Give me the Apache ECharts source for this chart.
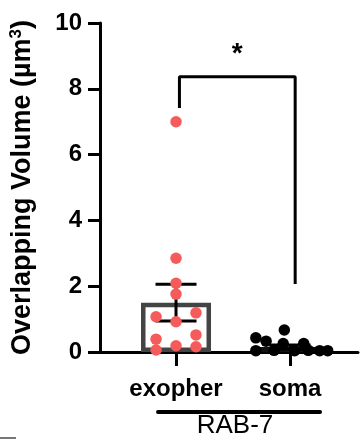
<!DOCTYPE html>
<html><head><meta charset="utf-8">
<script src="https://cdn.jsdelivr.net/npm/echarts@6/dist/echarts.min.js"></script>
<style>html,body{margin:0;padding:0;background:#fff}#c{width:360px;height:439px}</style>
</head><body><div id="c"></div>
<script>
const categories = ['exopher', 'soma'];
const groupLabel = 'RAB-7';
const yTicks = [0, 2, 4, 6, 8, 10];
const means = [1.5, 0.15];
const sems = [0.56, 0.06];
const exopherValues = [7.0, 2.85, 2.09, 1.76, 1.07, 1.19, 0.92, 0.39, 0.52, 0.19, 0.06, 0.16];
const exopherJitter = [0, 0, 0, 0, -0.175, 0.175, 0, -0.175, 0.175, 0, -0.175, 0.175];
const somaValues = [0.67, 0.43, 0.33, 0.26, 0.26, 0.04, 0.05, 0.04, 0.05, 0.04, 0.04];
const somaJitter = [-0.05, -0.3, -0.21, -0.06, 0.12, -0.3, -0.14, 0.04, 0.16, 0.26, 0.33];
const sigBracket = { from: 1.03, to: 2.045, top: 8.37, leftEnd: 7.42, rightEnd: 2.07, label: '*' };

const FONT = '"Liberation Sans", Arial, sans-serif';
const chart = echarts.init(document.getElementById('c'));

const xs = categories.map((_, i) => i + 1);
const exPts = exopherValues.map((v, i) => [1 + exopherJitter[i], v]);
const soPts = somaValues.map((v, i) => [2 + somaJitter[i], v]);

chart.setOption({
  animation: false,
  grid: { left: 100, right: 2, top: 23, bottom: 87 },
  xAxis: {
    type: 'value', min: 0.3333, max: 2.596,
    splitLine: { show: false },
    axisLine: { show: true, onZero: false, lineStyle: { color: '#000', width: 3 } },
    axisTick: { show: true, customValues: xs, length: 14, lineStyle: { color: '#000', width: 3 } },
    axisLabel: { customValues: xs, formatter: v => categories[Math.round(v) - 1] || '',
      color: '#000', fontFamily: FONT, fontWeight: 'bold', fontSize: 24, margin: 25 }
  },
  yAxis: {
    type: 'value', min: 0, max: 10, interval: 2,
    splitLine: { show: false },
    axisLine: { show: true, lineStyle: { color: '#000', width: 3 } },
    axisTick: { show: true, length: 12, lineStyle: { color: '#000', width: 3 } },
    axisLabel: { color: '#000', fontFamily: FONT, fontWeight: 'bold', fontSize: 24, margin: 18,
      formatter: v => yTicks.includes(v) ? String(v) : '' },
    name: '{a|Overlapping Volume (µm}{s|3}{a|)}',
    nameLocation: 'middle', nameGap: 63,
    nameTextStyle: { rich: {
      a: { fontFamily: FONT, fontWeight: 'bold', fontSize: 27, color: '#000' },
      s: { fontFamily: FONT, fontWeight: 'bold', fontSize: 17, color: '#000', verticalAlign: 'top', padding: [0,0,12,0] }
    } }
  },
  series: [
    {
      type: 'bar', barWidth: 70,
      data: means.map((m, i) => ({ value: [xs[i], m],
        itemStyle: { color: 'rgba(0,0,0,0)', borderColor: i === 0 ? '#444' : '#111', borderWidth: 4.5 } })),
      z: 1
    },
    {
      type: 'custom', z: 2,
      data: means.map((m, i) => [xs[i], m - sems[i], m + sems[i]]),
      renderItem: (params, api) => {
        const lo = api.coord([api.value(0), api.value(1)]);
        const hi = api.coord([api.value(0), api.value(2)]);
        const hw = 20.5;
        const st = { stroke: '#000', lineWidth: 3, fill: null };
        return { type: 'group', children: [
          { type: 'line', shape: { x1: lo[0], y1: lo[1], x2: hi[0], y2: hi[1] }, style: st },
          { type: 'line', shape: { x1: lo[0]-hw, y1: lo[1], x2: lo[0]+hw, y2: lo[1] }, style: st },
          { type: 'line', shape: { x1: hi[0]-hw, y1: hi[1], x2: hi[0]+hw, y2: hi[1] }, style: st }
        ] };
      }
    },
    { type: 'scatter', data: exPts, symbolSize: 11.5, itemStyle: { color: '#f65b5b', opacity: 1 }, z: 3 },
    { type: 'scatter', data: soPts, symbolSize: 11.5, itemStyle: { color: '#000', opacity: 1 }, z: 3 },
    {
      type: 'line', z: 4, symbol: 'none',
      data: [[sigBracket.from, sigBracket.leftEnd], [sigBracket.from, sigBracket.top],
             [sigBracket.to, sigBracket.top], [sigBracket.to, sigBracket.rightEnd]],
      lineStyle: { color: '#000', width: 3 },
      markPoint: {
        symbol: 'circle', symbolSize: 0,
        data: [{ coord: [(sigBracket.from + sigBracket.to) / 2, 9.05], value: sigBracket.label }],
        label: { show: true, formatter: sigBracket.label, color: '#000', fontFamily: FONT, fontWeight: 'bold', fontSize: 28, position: 'inside' }
      }
    }
  ]
});

const p1 = chart.convertToPixel({ gridIndex: 0 }, [1, 0]);
const p2 = chart.convertToPixel({ gridIndex: 0 }, [2, 0]);
chart.setOption({
  graphic: [
    { type: 'line', shape: { x1: p1[0] - 18, y1: p1[1] + 60, x2: p2[0] + 30, y2: p1[1] + 60 },
      style: { stroke: '#000', lineWidth: 4, lineCap: 'round' } },
    { type: 'text', x: (p1[0] + p2[0]) / 2 + 2, y: p1[1] + 74, style: { text: groupLabel, fontFamily: FONT, fontSize: 26,
      fill: '#000', textAlign: 'center', textVerticalAlign: 'middle' } },
    { type: 'rect', shape: { x: 0, y: 437, width: 16, height: 2 }, style: { fill: '#777' } }
  ]
});
</script></body></html>
